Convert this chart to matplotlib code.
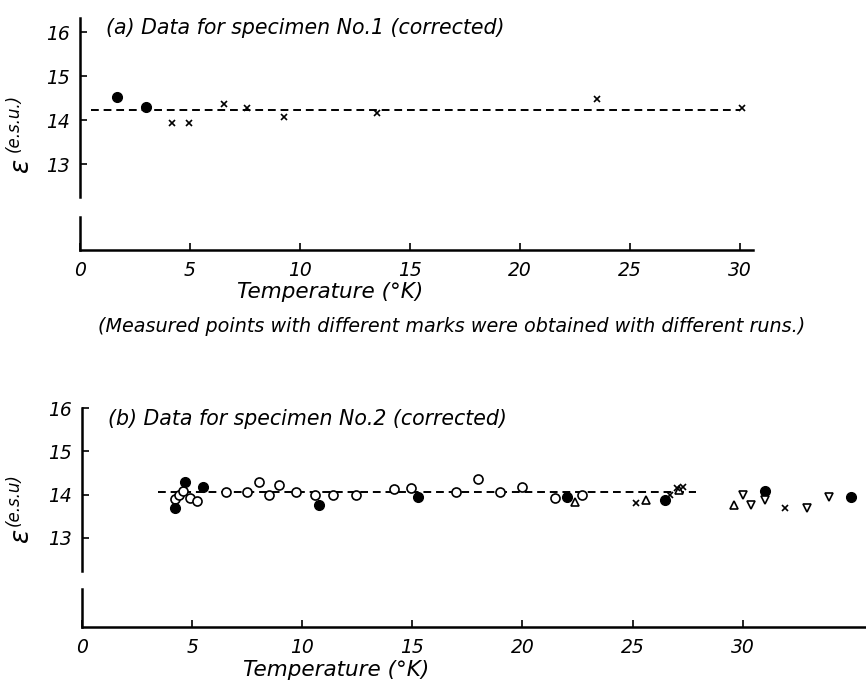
import matplotlib.pyplot as plt
import numpy as np

plt.rcParams['font.family'] = ['DejaVu Sans']
plt.rcParams['font.style'] = 'italic'

# (a) specimen No.1
a_dot_T = [1.7, 3.0]
a_dot_e = [14.52, 14.30]
a_x_T = [4.2, 4.97, 6.55, 7.6, 9.27, 13.5, 23.5, 30.1]
a_x_e = [13.93, 13.93, 14.36, 14.27, 14.07, 14.16, 14.48, 14.28]
a_fit = 14.22
a_fit_T = [0.5, 30.0]

# (b) specimen No.2
b_dot_T = [4.22, 4.67, 5.5, 10.75, 15.25, 22.04, 26.46, 31.0, 34.9]
b_dot_e = [13.68, 14.30, 14.18, 13.77, 13.95, 13.95, 13.88, 14.09, 13.95]
b_open_T = [4.22, 4.4, 4.58, 4.9, 5.2, 6.53, 7.48, 8.03, 8.48, 8.94, 9.7,
            10.57, 11.38, 12.43, 14.15, 14.95, 17.0, 18.0, 18.96, 20.0, 21.5, 22.7]
b_open_e = [13.89, 14.0, 14.09, 13.93, 13.84, 14.07, 14.07, 14.30, 13.98, 14.21, 14.05,
            14.0, 13.98, 14.0, 14.14, 14.16, 14.05, 14.37, 14.05, 14.18, 13.93, 14.0]
b_up_T = [22.4, 25.6, 27.1, 29.6]
b_up_e = [13.82, 13.88, 14.1, 13.75]
b_down_T = [30.0, 30.4, 31.0, 32.9, 33.9]
b_down_e = [14.0, 13.77, 13.88, 13.7, 13.95]
b_x_T = [25.15, 26.7, 27.0, 27.3, 31.9]
b_x_e = [13.8, 13.98, 14.15, 14.18, 13.68]
b_fit = 14.07
b_fit_T = [3.45, 27.9]

fig = plt.figure(figsize=(8.66, 6.87), dpi=100)


def style_axes(ax, xlim, ylim, brk, xticks):
    ax.set_xlim(*xlim)
    ax.set_ylim(*ylim)
    for s in ['top', 'right', 'left']:
        ax.spines[s].set_visible(False)
    ax.spines['bottom'].set_linewidth(1.8)
    # broken y axis
    ax.axvline(xlim[0], ymin=brk[1], ymax=1, color='k', lw=1.8, clip_on=False)
    ax.axvline(xlim[0], ymin=0, ymax=brk[0], color='k', lw=1.8, clip_on=False)
    ax.set_yticks([13, 14, 15, 16])
    ax.set_yticklabels(['13', '14', '15', '16'])
    ax.set_xticks(xticks)
    ax.set_xticklabels([str(t) for t in xticks])
    ax.tick_params(direction='in', length=5, width=1.2, labelsize=13.5, pad=8)
    ax.tick_params(axis='y', pad=7)


# ---- panel (a)
ax1 = fig.add_axes([80 / 866, 1 - 250 / 687, 673 / 866, 232 / 687])
style_axes(ax1, (0, 30.6), (11.045, 16.32), (0.143, 0.228), [0, 5, 10, 15, 20, 25, 30])
ax1.plot(a_fit_T, [a_fit, a_fit], 'k', ls=(0, (4, 2.5)), lw=1.4)
ax1.plot(a_dot_T, a_dot_e, 'o', color='k', ms=7)
ax1.plot(a_x_T, a_x_e, 'x', color='k', ms=4.5, mew=1.2)
ax1.text(1.2, 16.1, '(a) Data for specimen No.1 (corrected)', fontsize=14.8, va='center')

# ---- panel (b)
ax2 = fig.add_axes([82 / 866, 1 - 627 / 687, 784 / 866, 219 / 687])
style_axes(ax2, (0, 35.6), (10.94, 16.0), (0.174, 0.255), [0, 5, 10, 15, 20, 25, 30])
ax2.plot(b_fit_T, [b_fit, b_fit], 'k', ls=(0, (4, 2.5)), lw=1.4)
ax2.plot(b_open_T, b_open_e, 'o', mfc='white', mec='k', ms=6.5, mew=1.2)
ax2.plot(b_dot_T, b_dot_e, 'o', color='k', ms=7)
ax2.plot(b_up_T, b_up_e, '^', mfc='white', mec='k', ms=5.5, mew=1.2)
ax2.plot(b_down_T, b_down_e, 'v', mfc='white', mec='k', ms=6, mew=1.2)
ax2.plot(b_x_T, b_x_e, 'x', color='k', ms=4.5, mew=1.2)
ax2.text(1.2, 15.75, '(b) Data for specimen No.2 (corrected)', fontsize=14.8, va='center')

# y labels: epsilon with raised unit
fig.text(21 / 866, 1 - 165 / 687, 'ε', rotation=90, fontsize=19, ha='center', va='center')
fig.text(14 / 866, 1 - 123 / 687, '(e.s.u.)', rotation=90, fontsize=12, ha='center', va='center')
fig.text(21 / 866, 1 - 535 / 687, 'ε', rotation=90, fontsize=19, ha='center', va='center')
fig.text(14 / 866, 1 - 500 / 687, '(e.s.u)', rotation=90, fontsize=12, ha='center', va='center')

fig.text(330 / 866, 1 - 292 / 687, 'Temperature (°K)', fontsize=15.5, ha='center', va='center')
fig.text(336 / 866, 1 - 670 / 687, 'Temperature (°K)', fontsize=15.5, ha='center', va='center')
fig.text(452 / 866, 1 - 326 / 687,
         '(Measured points with different marks were obtained with different runs.)',
         fontsize=13.8, ha='center', va='center')

fig.savefig('out.png', dpi=100)
